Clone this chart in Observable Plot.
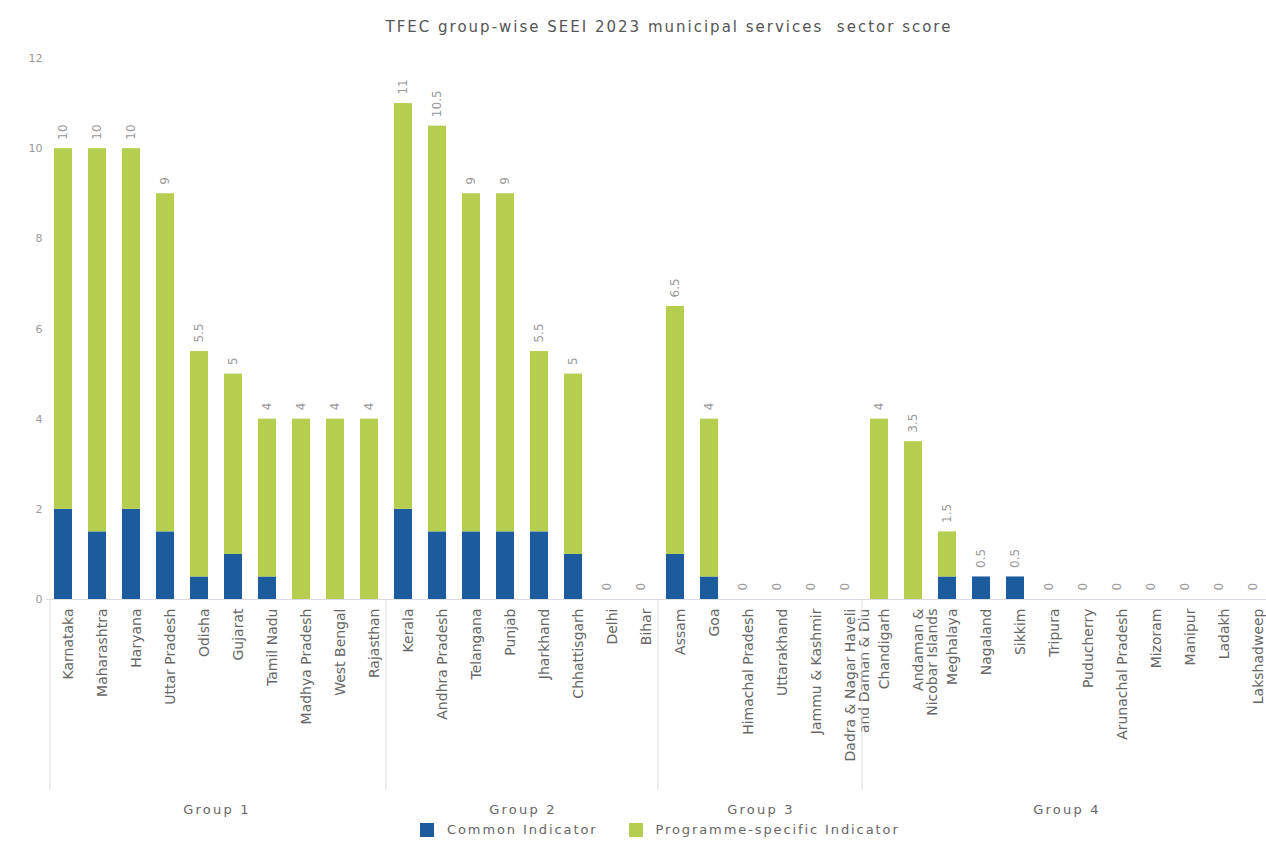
<!DOCTYPE html>
<html>
<head>
<meta charset="utf-8">
<script src="https://cdn.jsdelivr.net/npm/d3@7"></script>
<script src="https://cdn.jsdelivr.net/npm/@observablehq/plot@0.6"></script>
<style>
  html, body { margin: 0; padding: 0; background: #fff; }
  body { width: 1266px; height: 846px; overflow: hidden; position: relative; font-family: "DejaVu Sans", sans-serif; }
  #title { position: absolute; left: 0; top: 18px; width: 1266px; padding-left: 72px; box-sizing: border-box; text-align: center; font-size: 15px; color: #555; letter-spacing: 2px; white-space: pre; }
  #chart { position: absolute; left: 0; top: 44px; }
  #legend { position: absolute; top: 822px; left: 420px; display: flex; align-items: center; font-size: 13px; color: #666; letter-spacing: 1.9px; }
  .sw { width: 14px; height: 14px; display: inline-block; margin-right: 13px; }
  .item { display: flex; align-items: center; margin-right: 31px; }
</style>
</head>
<body>
<div id="title"></div>
<div id="chart"></div>
<div id="legend"></div>
<script>
const titleText = "TFEC group-wise SEEI 2023 municipal services  sector score";
const states = ["Karnataka","Maharashtra","Haryana","Uttar Pradesh","Odisha","Gujarat","Tamil Nadu","Madhya Pradesh","West Bengal","Rajasthan",
  "Kerala","Andhra Pradesh","Telangana","Punjab","Jharkhand","Chhattisgarh","Delhi","Bihar",
  "Assam","Goa","Himachal Pradesh","Uttarakhand","Jammu & Kashmir","Dadra & Nagar Haveli and Daman & Diu",
  "Chandigarh","Andaman & Nicobar Islands","Meghalaya","Nagaland","Sikkim","Tripura","Puducherry","Arunachal Pradesh","Mizoram","Manipur","Ladakh","Lakshadweep"];
const groupOf = ["Group 1","Group 1","Group 1","Group 1","Group 1","Group 1","Group 1","Group 1","Group 1","Group 1",
  "Group 2","Group 2","Group 2","Group 2","Group 2","Group 2","Group 2","Group 2",
  "Group 3","Group 3","Group 3","Group 3","Group 3","Group 3",
  "Group 4","Group 4","Group 4","Group 4","Group 4","Group 4","Group 4","Group 4","Group 4","Group 4","Group 4","Group 4"];
const totalScore = [10,10,10,9,5.5,5,4,4,4,4,
  11,10.5,9,9,5.5,5,0,0,
  6.5,4,0,0,0,0,
  4,3.5,1.5,0.5,0.5,0,0,0,0,0,0,0];
const commonIndicator = [2,1.5,2,1.5,0.5,1,0.5,0,0,0,
  2,1.5,1.5,1.5,1.5,1,0,0,
  1,0.5,0,0,0,0,
  0,0,0.5,0.5,0.5,0,0,0,0,0,0,0];
const groupNames = ["Group 1","Group 2","Group 3","Group 4"];
const seriesNames = ["Common Indicator","Programme-specific Indicator"];
const seriesColors = ["#1c5b9e","#b6ce50"];
const yTicks = [0,2,4,6,8,10,12];

document.getElementById("title").textContent = titleText;

const rows = [];
states.forEach((s, i) => {
  rows.push({state: s, series: seriesNames[0], value: commonIndicator[i]});
  rows.push({state: s, series: seriesNames[1], value: totalScore[i] - commonIndicator[i]});
});
const totals = states.map((s, i) => ({state: s, total: totalScore[i]}));

const wrap = d => d.replace(" and Daman", "\nand Daman").replace(" & Nicobar", " &\nNicobar");

const H = 775;
const chart = Plot.plot({
  width: 1266,
  height: H,
  marginTop: 0, marginLeft: 46, marginRight: 0, marginBottom: 220,
  style: {fontFamily: "DejaVu Sans, sans-serif", background: "#fff", overflow: "visible"},
  x: {domain: states, range: [46, 1271], paddingInner: 0.47, paddingOuter: 0.235, label: null, axis: null},
  y: {domain: [0, 12], range: [555, 14], label: null, axis: null},
  color: {domain: seriesNames, range: seriesColors},
  marks: [
    Plot.barY(rows, {x: "state", y: "value", fill: "series"}),
    Plot.ruleY([0], {stroke: "#d8dde8", strokeWidth: 1}),
    Plot.axisY({ticks: yTicks, tickSize: 0, tickPadding: 4, fontSize: 11, fill: "#999", label: null}),
    Plot.axisX({tickSize: 0, tickPadding: 9, rotate: -90, textAnchor: "end", fontSize: 14, fill: "#666",
      tickFormat: wrap, lineHeight: 0.98, letterSpacing: 1.8}),
    Plot.text(totals, {x: "state", y: "total", text: d => String(d.total), rotate: -90, textAnchor: "start",
      dy: -9, fontSize: 12, fill: "#999", letterSpacing: 1.2})
  ]
});
document.getElementById("chart").appendChild(chart);

// group separators and group labels using the plot's x scale
const xs = chart.scale("x");
const bw = xs.bandwidth, step = xs.step;
const center = s => xs.apply(s) + bw / 2;
const svg = d3.select(chart.tagName.toLowerCase() === "svg" ? chart : chart.querySelector("svg"));
const y0 = chart.scale("y").apply(0);
const edges = [];
groupNames.forEach(g => {
  const members = states.filter((s, i) => groupOf[i] === g);
  const left = center(members[0]) - step / 2;
  const right = center(members[members.length - 1]) + step / 2;
  edges.push(left);
  svg.append("text").attr("x", (left + right) / 2 + 1).attr("y", y0 + 215)
    .attr("text-anchor", "middle").attr("font-size", 13).attr("fill", "#666")
    .attr("letter-spacing", "2.2px").text(g);
});
edges.forEach((e, i) => {
  const xx = i === 0 ? e + 4 : e;
  svg.append("line").attr("x1", xx).attr("x2", xx).attr("y1", y0).attr("y2", y0 + 191)
    .attr("stroke", "#ddd").attr("stroke-width", 1);
});

// legend
const leg = d3.select("#legend");
seriesNames.forEach((n, i) => {
  const it = leg.append("div").attr("class", "item");
  it.append("span").attr("class", "sw").style("background", seriesColors[i]);
  it.append("span").text(n);
});
</script>
</body>
</html>
